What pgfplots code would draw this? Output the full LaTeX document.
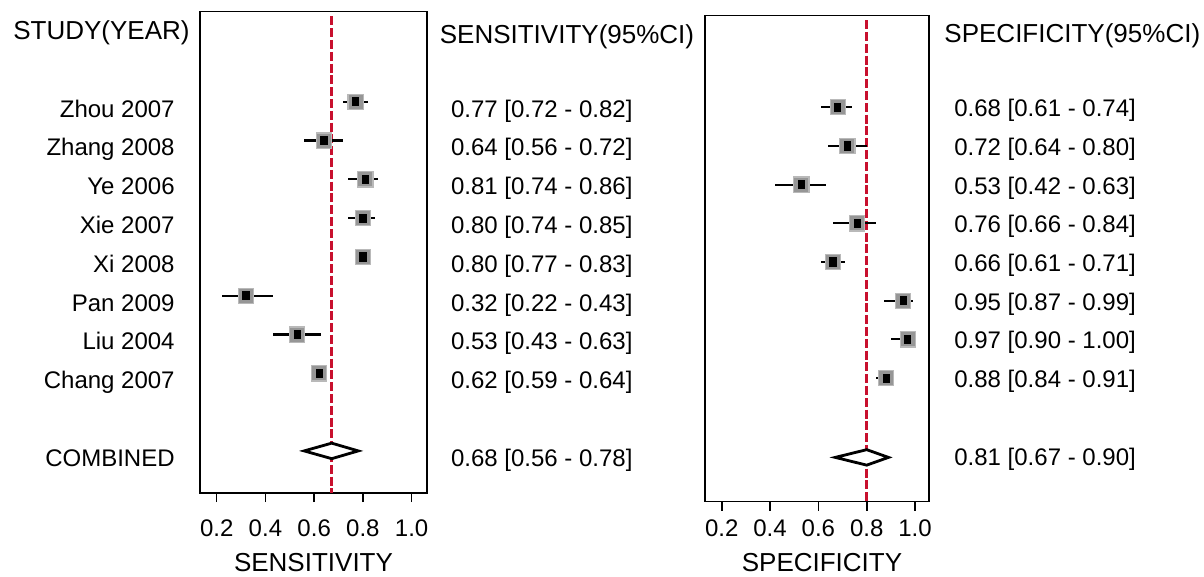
\documentclass[border=0pt]{standalone}
\usepackage{fontspec}
\setmainfont{Liberation Sans}
\usepackage{pgfplots}
\pgfplotsset{compat=1.18}
\usepackage{pgfplotstable}
\definecolor{refred}{RGB}{200,16,46}
\definecolor{sqfill}{RGB}{150,150,150}
\definecolor{sqedge}{RGB}{185,185,185}

\pgfplotstableread{
row est lo hi
1 0.77 0.72 0.82
2 0.64 0.56 0.72
3 0.81 0.74 0.86
4 0.80 0.74 0.85
5 0.80 0.77 0.83
6 0.32 0.22 0.43
7 0.53 0.43 0.63
8 0.62 0.59 0.64
}\sens
\pgfplotstableread{
row est lo hi
1 0.68 0.61 0.74
2 0.72 0.64 0.80
3 0.53 0.42 0.63
4 0.76 0.66 0.84
5 0.66 0.61 0.71
6 0.95 0.87 0.99
7 0.97 0.90 1.00
8 0.88 0.84 0.91
}\spec

\tikzset{
  rowtxt/.style={inner sep=0pt, yshift=-7.7pt, font=\fontsize{12}{14}\selectfont},
  rowtxtR/.style={inner sep=0pt, yshift=-4.8pt, font=\fontsize{12}{14}\selectfont},
  headtxt/.style={inner sep=0pt, anchor=base west, font=\fontsize{13}{15}\selectfont},
}
\pgfplotsset{
  forest/.style={
    scale only axis, clip=false,
    y dir=reverse,
    axis line style={line width=0.9pt},
    xtick={0.2,0.4,0.6,0.8,1.0},
    xticklabels={0.2,0.4,0.6,0.8,1.0},
    ytick=\empty,
    xtick pos=bottom,
    tick align=outside,
    major tick length=4.5pt,
    tick style={black, line width=0.8pt},
    ticklabel style={font=\fontsize{12}{14}\selectfont},
    label style={font=\fontsize{13}{15}\selectfont},
  },
  ci/.style={only marks, mark=none, error bars/.cd, x dir=both, x explicit, error mark=none,
    error bar style={line width=1.1pt, black}},
  grsq/.style={only marks, mark=square*, mark size=3.8pt, mark options={fill=sqfill, draw=sqedge, line width=0.6pt}},
  blsq/.style={only marks, mark=square*, mark size=1.9pt, mark options={fill=black, draw=black, xscale=0.8, yscale=1.1}},
}

\begin{document}
\begin{tikzpicture}
\useasboundingbox (0,0) rectangle (602pt,-288.5pt);
% ---------------- Sensitivity ----------------
\begin{axis}[forest,
  at={(100pt,-5.75pt)}, anchor=north west,
  width=113.5pt, height=240.75pt,
  xmin=0.1315, xmax=1.063, ymin=-1.325, ymax=11.085,
  xticklabel style={anchor=base, yshift=-17.3pt},
  xlabel={SENSITIVITY},
  xlabel style={at={(axis description cs:0.5,0)}, anchor=base, yshift=-39.2pt},
]
\addplot[refred, line width=1.5pt, dash pattern=on 4.5pt off 1.4pt] coordinates {(0.672,-1.2) (0.672,11.085)};
\addplot[ci] table[x=est, y=row, x error plus expr=\thisrow{hi}-\thisrow{est}, x error minus expr=\thisrow{est}-\thisrow{lo}] {\sens};
\addplot[grsq] table[x=est, y=row] {\sens};
\addplot[blsq] table[x=est, y=row] {\sens};
\addplot[black, line width=1.4pt, fill=white, line join=miter] coordinates {(0.559,10) (0.672,9.8) (0.781,10) (0.672,10.2)} -- cycle;

\node[headtxt] at (axis cs:-0.636,-0.603) {STUDY(YEAR)};
\node[headtxt] at (axis cs:1.114,-0.513) {SENSITIVITY(95\%CI)};

\node[rowtxt, anchor=base east] at (axis cs:0.029,1) {Zhou 2007};
\node[rowtxt, anchor=base east] at (axis cs:0.029,2) {Zhang 2008};
\node[rowtxt, anchor=base east] at (axis cs:0.029,3) {Ye 2006};
\node[rowtxt, anchor=base east] at (axis cs:0.029,4) {Xie 2007};
\node[rowtxt, anchor=base east] at (axis cs:0.029,5) {Xi 2008};
\node[rowtxt, anchor=base east] at (axis cs:0.029,6) {Pan 2009};
\node[rowtxt, anchor=base east] at (axis cs:0.029,7) {Liu 2004};
\node[rowtxt, anchor=base east] at (axis cs:0.029,8) {Chang 2007};
\node[rowtxt, anchor=base east] at (axis cs:0.029,10) {COMBINED};

\node[rowtxt, anchor=base west] at (axis cs:1.160,1) {0.77 [0.72 - 0.82]};
\node[rowtxt, anchor=base west] at (axis cs:1.160,2) {0.64 [0.56 - 0.72]};
\node[rowtxt, anchor=base west] at (axis cs:1.160,3) {0.81 [0.74 - 0.86]};
\node[rowtxt, anchor=base west] at (axis cs:1.160,4) {0.80 [0.74 - 0.85]};
\node[rowtxt, anchor=base west] at (axis cs:1.160,5) {0.80 [0.77 - 0.83]};
\node[rowtxt, anchor=base west] at (axis cs:1.160,6) {0.32 [0.22 - 0.43]};
\node[rowtxt, anchor=base west] at (axis cs:1.160,7) {0.53 [0.43 - 0.63]};
\node[rowtxt, anchor=base west] at (axis cs:1.160,8) {0.62 [0.59 - 0.64]};
\node[rowtxt, anchor=base west] at (axis cs:1.160,10) {0.68 [0.56 - 0.78]};
\end{axis}

% ---------------- Specificity ----------------
\begin{axis}[forest,
  at={(352.35pt,-7.75pt)}, anchor=north west,
  width=112.3pt, height=243pt,
  xmin=0.1296, xmax=1.059, ymin=-1.371, ymax=11.19,
  xticklabel style={anchor=base, yshift=-13.2pt},
  xlabel={SPECIFICITY},
  xlabel style={at={(axis description cs:0.5,0)}, anchor=base, yshift=-35pt, xshift=2.5pt},
]
\addplot[refred, line width=1.5pt, dash pattern=on 4.5pt off 1.4pt] coordinates {(0.80,-1.25) (0.80,11.19)};
\addplot[ci] table[x=est, y=row, x error plus expr=\thisrow{hi}-\thisrow{est}, x error minus expr=\thisrow{est}-\thisrow{lo}] {\spec};
\addplot[grsq] table[x=est, y=row] {\spec};
\addplot[blsq] table[x=est, y=row] {\spec};
\addplot[black, line width=1.4pt, fill=white, line join=miter] coordinates {(0.67,10.05) (0.80,9.85) (0.89,10.05) (0.80,10.25)} -- cycle;

\node[headtxt] at (axis cs:1.120,-0.661) {SPECIFICITY(95\%CI)};

\node[rowtxtR, anchor=base west] at (axis cs:1.161,1) {0.68 [0.61 - 0.74]};
\node[rowtxtR, anchor=base west] at (axis cs:1.161,2) {0.72 [0.64 - 0.80]};
\node[rowtxtR, anchor=base west] at (axis cs:1.161,3) {0.53 [0.42 - 0.63]};
\node[rowtxtR, anchor=base west] at (axis cs:1.161,4) {0.76 [0.66 - 0.84]};
\node[rowtxtR, anchor=base west] at (axis cs:1.161,5) {0.66 [0.61 - 0.71]};
\node[rowtxtR, anchor=base west] at (axis cs:1.161,6) {0.95 [0.87 - 0.99]};
\node[rowtxtR, anchor=base west] at (axis cs:1.161,7) {0.97 [0.90 - 1.00]};
\node[rowtxtR, anchor=base west] at (axis cs:1.161,8) {0.88 [0.84 - 0.91]};
\node[rowtxtR, anchor=base west] at (axis cs:1.161,10) {0.81 [0.67 - 0.90]};
\end{axis}
\end{tikzpicture}
\end{document}
